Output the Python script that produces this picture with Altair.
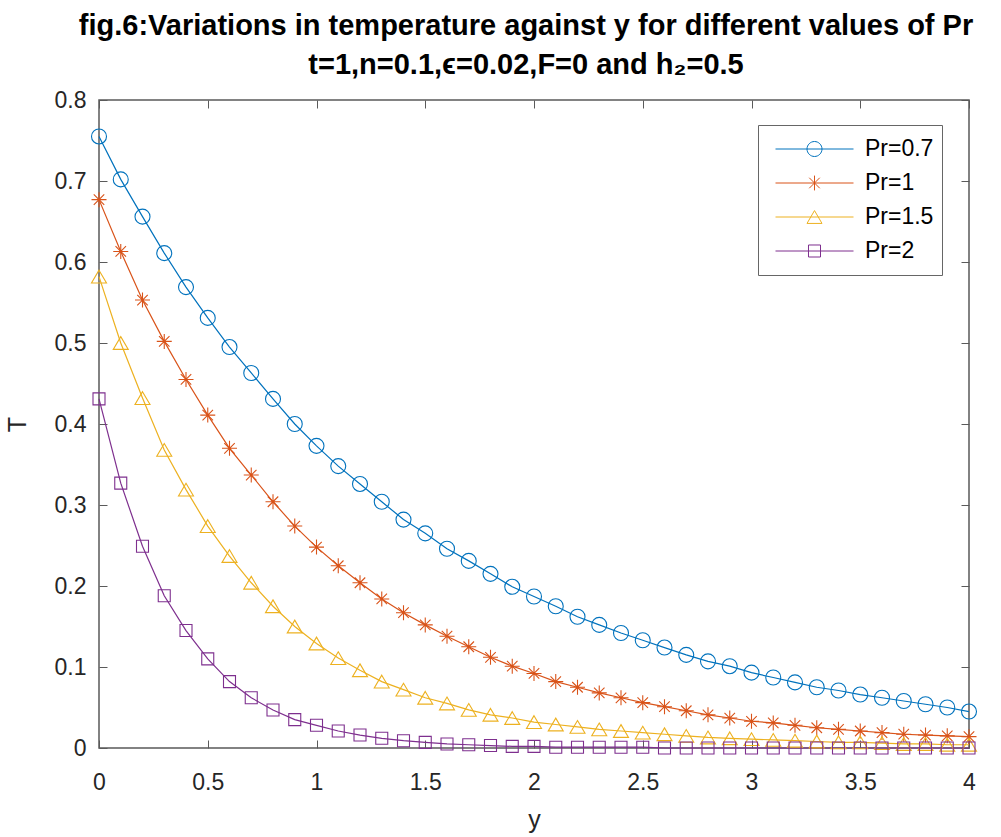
import altair as alt
import pandas as pd

# ---- data ----
y_vals = [round(i * 0.1, 1) for i in range(41)]

labels = ["Pr=0.7", "Pr=1", "Pr=1.5", "Pr=2"]

T_pr07 = [0.755, 0.702, 0.656, 0.611, 0.569, 0.531, 0.495, 0.463, 0.431, 0.400,
          0.373, 0.348, 0.326, 0.304, 0.282, 0.265, 0.246, 0.231, 0.215, 0.199,
          0.187, 0.175, 0.162, 0.152, 0.142, 0.133, 0.124, 0.115, 0.107, 0.101,
          0.093, 0.087, 0.081, 0.075, 0.071, 0.066, 0.062, 0.058, 0.054, 0.050,
          0.045]
T_pr1 = [0.677, 0.613, 0.553, 0.502, 0.455, 0.411, 0.370, 0.337, 0.304, 0.274,
         0.248, 0.225, 0.204, 0.184, 0.167, 0.152, 0.138, 0.125, 0.112, 0.101,
         0.092, 0.082, 0.075, 0.068, 0.062, 0.056, 0.051, 0.046, 0.041, 0.037,
         0.033, 0.031, 0.028, 0.025, 0.023, 0.021, 0.019, 0.017, 0.016, 0.015,
         0.014]
T_pr15 = [0.582, 0.500, 0.432, 0.368, 0.319, 0.274, 0.237, 0.204, 0.175, 0.150,
          0.129, 0.111, 0.096, 0.082, 0.072, 0.062, 0.055, 0.047, 0.041, 0.037,
          0.032, 0.029, 0.026, 0.023, 0.021, 0.019, 0.017, 0.015, 0.013, 0.012,
          0.011, 0.010, 0.009, 0.008, 0.007, 0.007, 0.006, 0.005, 0.005, 0.004,
          0.004]
T_pr2 = [0.431, 0.327, 0.249, 0.188, 0.145, 0.110, 0.082, 0.062, 0.047, 0.035,
         0.028, 0.021, 0.016, 0.012, 0.009, 0.007, 0.005, 0.004, 0.003, 0.002,
         0.002, 0.001, 0.001, 0.001, 0.001, 0.001, 0.000, 0.000, 0.000, 0.000,
         0.000, 0.000, 0.000, 0.000, 0.000, 0.000, 0.000, 0.000, 0.000, 0.000,
         0.000]

x_ticks = [0, 0.5, 1, 1.5, 2, 2.5, 3, 3.5, 4]
y_ticks = [0, 0.1, 0.2, 0.3, 0.4, 0.5, 0.6, 0.7, 0.8]

colors = ["#0072BD", "#D95319", "#EDB120", "#7E2F8E"]

# marker shapes (unit box -1..1)
marker_paths = [
    "M1,0A1,1 0 1,1 -1,0A1,1 0 1,1 1,0Z",
    "M0,-1V1M-1,0H1M-0.7,-0.7L0.7,0.7M-0.7,0.7L0.7,-0.7",
    "M0,-0.85L1,0.85H-1Z",
    "M-0.8,-0.8H0.8V0.8H-0.8Z",
]
# legend symbols: line with marker in the middle
legend_paths = [
    "M-1,0H1M0.192,0A0.192,0.192 0 1,1 -0.192,0A0.192,0.192 0 1,1 0.192,0Z",
    "M-1,0H1M0,-0.19V0.19M-0.135,-0.135L0.135,0.135M-0.135,0.135L0.135,-0.135",
    "M-1,0H1M0,-0.165L0.192,0.165H-0.192Z",
    "M-1,0H1M-0.154,-0.154H0.154V0.154H-0.154Z",
]

series = [T_pr07, T_pr1, T_pr15, T_pr2]
rows = []
for lab, vals in zip(labels, series):
    for xv, tv in zip(y_vals, vals):
        rows.append({"y": xv, "T": tv, "Pr": lab})
df = pd.DataFrame(rows)

FONT = "Liberation Sans"
AX = "#5a5a5a"

color_scale = alt.Scale(domain=labels, range=colors)

x_enc = alt.X("y:Q", scale=alt.Scale(domain=[0, 4], nice=False, zero=False),
              axis=alt.Axis(values=x_ticks, format="~g", grid=True,
                            gridDash=[8, 632], gridColor=AX, gridOpacity=1,
                            gridWidth=1, ticks=False, domain=False,
                            labelFlush=False, labelFont=FONT, labelFontSize=23,
                            labelColor="#262626", labelPadding=23,
                            title="y", titleFont=FONT, titleFontSize=25,
                            titleFontWeight="normal", titleColor="#262626",
                            titlePadding=13))
y_enc = alt.Y("T:Q", scale=alt.Scale(domain=[0, 0.8], nice=False),
              axis=alt.Axis(values=y_ticks, format="~g", grid=True,
                            gridDash=[8, 854], gridColor=AX, gridOpacity=1,
                            gridWidth=1, ticks=False, domain=False,
                            labelFont=FONT, labelFontSize=23,
                            labelColor="#262626", labelPadding=13,
                            title="T", titleFont=FONT, titleFontSize=25,
                            titleFontWeight="normal", titleColor="#262626",
                            titlePadding=24))

lines = alt.Chart(df).mark_line(strokeWidth=1.2).encode(
    x=x_enc, y=y_enc,
    color=alt.Color("Pr:N", scale=color_scale, legend=None),
)

points = alt.Chart(df).mark_point(filled=False, opacity=1, strokeWidth=1.1, size=225).encode(
    x=x_enc, y=y_enc,
    color=alt.Color("Pr:N", scale=color_scale, legend=None),
    shape=alt.Shape("Pr:N", scale=alt.Scale(domain=labels, range=marker_paths), legend=None),
)

legend_props = dict(orient="none", legendX=659, legendY=25,
                    title=None, fillColor="white",
                    strokeColor="#666", padding=8,
                    labelFont=FONT, labelFontSize=23,
                    labelColor="#000000", symbolSize=6084,
                    symbolStrokeWidth=1, symbolOffset=9,
                    labelOffset=11, clipHeight=32,
                    rowPadding=2, symbolOpacity=1)

legend_layer = alt.Chart(df).transform_filter("false").mark_point(
    filled=False, opacity=1, strokeWidth=1, size=6084).encode(
    x=x_enc, y=y_enc,
    color=alt.Color("Pr:N", scale=color_scale, legend=alt.Legend(**legend_props)),
    shape=alt.Shape("Pr:N", scale=alt.Scale(domain=labels, range=legend_paths),
                    legend=alt.Legend(**legend_props)),
)

chart = alt.layer(lines, points, legend_layer).resolve_scale(
    color="independent", shape="independent"
).properties(
    width=870, height=648,
    autosize="none",
    padding={"left": 99, "top": 100, "right": 32, "bottom": 89},
    background="white",
    title=alt.TitleParams(
        text=["fig.6:Variations in temperature against y for different values of Pr",
              "t=1,n=0.1,\u03f5=0.02,F=0 and h\u2082=0.5"],
        font=FONT, fontSize=29, fontWeight="bold", color="#000000",
        anchor="middle", lineHeight=39, offset=9, dx=-8,
    ),
).configure_view(stroke=AX, strokeWidth=1.5)

chart.save("out.html", embed_options={"renderer": "svg", "actions": False})
